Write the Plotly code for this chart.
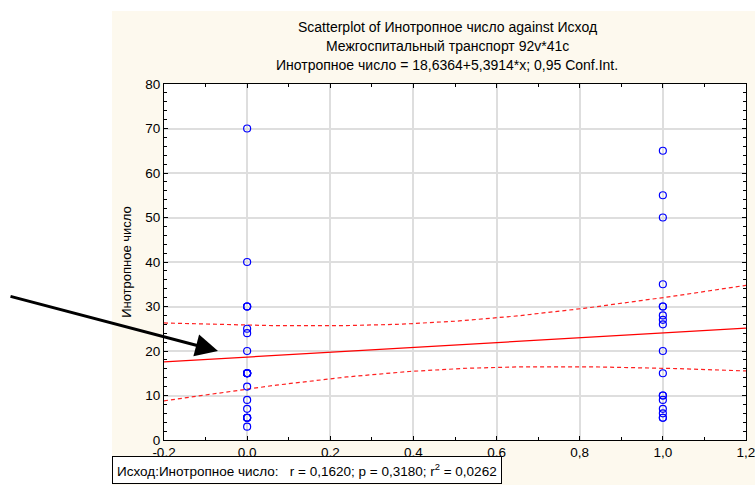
import numpy as np
import plotly.graph_objects as go

# ---- data ----
outcome_0 = [70, 40, 30, 30, 30, 25, 24, 20, 15, 15, 15, 15, 15, 15, 12, 9, 7, 5, 5, 5, 5, 3]
outcome_1 = [65, 55, 50, 35, 30, 30, 28, 27, 26, 20, 15, 10, 10, 9, 7, 6, 5, 5]
x_ticks = [-0.2, 0.0, 0.2, 0.4, 0.6, 0.8, 1.0, 1.2]
x_tick_labels = ["-0,2", "0,0", "0,2", "0,4", "0,6", "0,8", "1,0", "1,2"]
y_ticks = [0, 10, 20, 30, 40, 50, 60, 70, 80]
t_crit = 2.0244  # t(0.975, df=38)

title_lines = [
    "Scatterplot of Инотропное число against Исход",
    "Межгоспитальный транспорт 92v*41c",
    "Инотропное число = 18,6364+5,3914*x; 0,95 Conf.Int.",
]
stats_text = "Исход:Инотропное число:&nbsp;&nbsp; r = 0,1620; p = 0,3180; r<sup>2</sup> = 0,0262"

x = np.array([0.0] * len(outcome_0) + [1.0] * len(outcome_1))
y = np.array(outcome_0 + outcome_1, dtype=float)
n = len(x)
slope, intercept = np.polyfit(x, y, 1)
resid = y - (intercept + slope * x)
s = np.sqrt(np.sum(resid ** 2) / (n - 2))
xbar = x.mean()
sxx = np.sum((x - xbar) ** 2)
xs = np.linspace(-0.2, 1.2, 141)
yhat = intercept + slope * xs
half = t_crit * s * np.sqrt(1 / n + (xs - xbar) ** 2 / sxx)

W, H = 755, 485
L, R, T, B = 164, 746, 84, 440
pw, ph = R - L, B - T
def px(p):
    return (p - L) / pw
def py(p):
    return (B - p) / ph

FONT = "Liberation Sans, Arial, sans-serif"
cream = "#fdf9ee"

fig = go.Figure()
fig.add_trace(go.Scatter(x=xs, y=yhat + half, mode="lines",
                         line=dict(color="#ff2020", width=1.2, dash="4px,3px"), hoverinfo="skip"))
fig.add_trace(go.Scatter(x=xs, y=yhat - half, mode="lines",
                         line=dict(color="#ff2020", width=1.2, dash="4px,3px"), hoverinfo="skip"))
fig.add_trace(go.Scatter(x=xs, y=yhat, mode="lines",
                         line=dict(color="#ff0000", width=1.2), hoverinfo="skip"))
fig.add_trace(go.Scatter(x=x, y=y, mode="markers",
                         marker=dict(symbol="circle-open", size=7, color="#0000ff",
                                     line=dict(width=1.2, color="#0000ff"))))

shapes = [
    dict(type="rect", xref="paper", yref="paper", x0=px(0), x1=px(112), y0=py(H + 5), y1=py(-5),
         fillcolor="white", line=dict(width=0), layer="below"),
    dict(type="rect", xref="paper", yref="paper", x0=px(0), x1=px(W + 5), y0=py(11), y1=py(-5),
         fillcolor="white", line=dict(width=0), layer="below"),
]

annotations = []
for i, line in enumerate(title_lines):
    annotations.append(dict(text=line, xref="paper", yref="paper", x=px(447), y=py(27 + 19 * i),
                            xanchor="center", yanchor="middle", showarrow=False,
                            font=dict(family=FONT, size=14, color="black")))
annotations.append(dict(text=stats_text, xref="paper", yref="paper", x=px(112), y=py(484),
                        xanchor="left", yanchor="bottom", showarrow=False, align="left",
                        bgcolor="white", bordercolor="black", borderwidth=1, borderpad=4,
                        font=dict(family=FONT, size=13.5, color="black")))
annotations.append(dict(x=-0.2 + (218 - L) / pw * 1.4, y=(B - 351) / ph * 80, xref="x", yref="y",
                        ax=9 - 218, ay=296 - 351, axref="pixel", ayref="pixel",
                        showarrow=True, arrowhead=2, arrowsize=1.5, arrowwidth=3,
                        arrowcolor="black", text=""))

fig.update_layout(
    width=W, height=H,
    margin=dict(l=L, r=W - R, t=T, b=H - B),
    paper_bgcolor=cream, plot_bgcolor="white",
    showlegend=False,
    separators=", ",
    shapes=shapes, annotations=annotations,
    font=dict(family=FONT, size=13.5, color="black"),
)
fig.update_xaxes(range=[-0.2, 1.2], tickmode="array", tickvals=x_ticks, ticktext=x_tick_labels,
                 automargin=False, ticklabeloverflow="allow",
                 showgrid=True, gridcolor="#dedede", gridwidth=1.5, zeroline=False,
                 showline=True, linecolor="black", linewidth=1, mirror="ticks",
                 ticks="inside", ticklen=4, tickcolor="black",
                 minor=dict(tickmode="linear", tick0=0, dtick=0.1, ticks="inside", ticklen=3,
                            tickcolor="black", showgrid=False),
                 tickfont=dict(size=13.5))
fig.update_yaxes(range=[0, 80], tickmode="array", tickvals=y_ticks,
                 automargin=False, ticklabeloverflow="allow",
                 showgrid=True, gridcolor="#dedede", gridwidth=1.5, zeroline=False,
                 showline=True, linecolor="black", linewidth=1, mirror="ticks",
                 ticks="inside", ticklen=4, tickcolor="black",
                 minor=dict(tickmode="linear", tick0=0, dtick=2, ticks="inside", ticklen=3,
                            tickcolor="black", showgrid=False),
                 title=dict(text="Инотропное число", standoff=10, font=dict(size=13)),
                 tickfont=dict(size=13.5))

fig.write_html("out.html")
